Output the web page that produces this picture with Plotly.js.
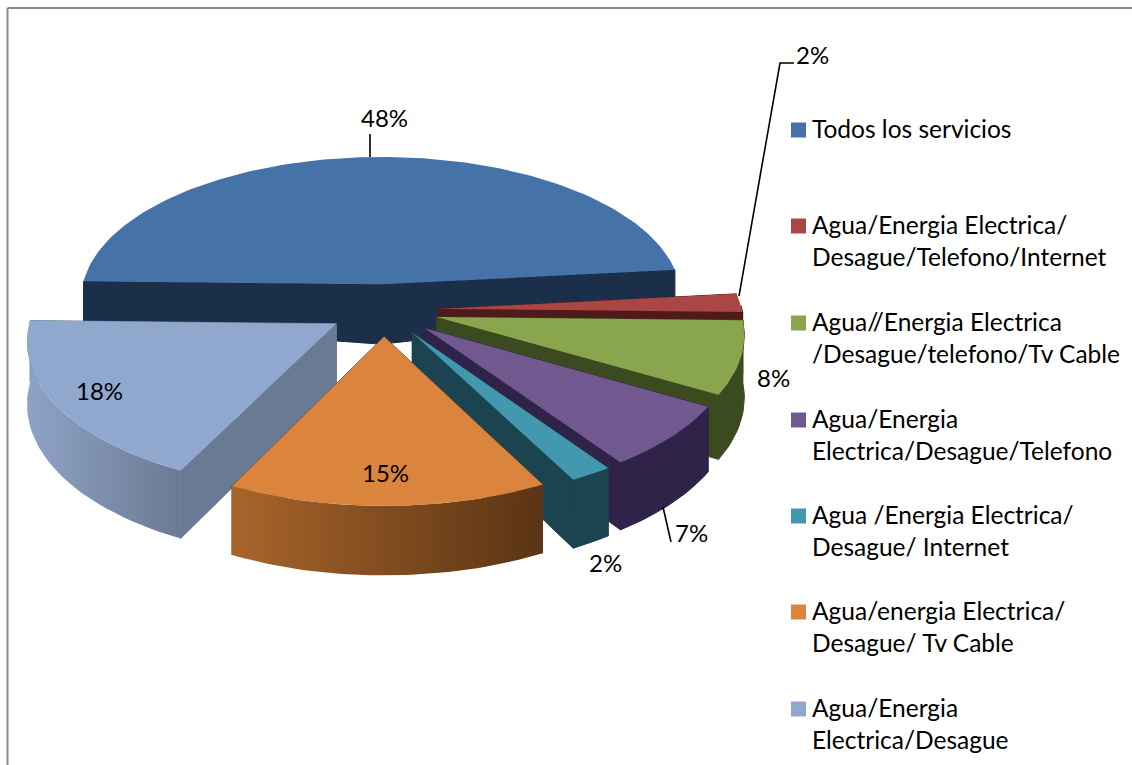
<!DOCTYPE html>
<html>
<head>
<meta charset="utf-8">
<script src="https://cdn.plot.ly/plotly-3.0.1.min.js"></script>
<style>html,body{margin:0;padding:0;background:#fff}#chart{width:1132px;height:765px}</style>
</head>
<body>
<div id="chart"></div>
<script>
const categories = [
  "Todos los servicios",
  "Agua/Energia Electrica/<br>Desague/Telefono/Internet",
  "Agua//Energia Electrica<br>/Desague/telefono/Tv Cable",
  "Agua/Energia<br>Electrica/Desague/Telefono",
  "Agua /Energia Electrica/<br>Desague/ Internet",
  "Agua/energia Electrica/<br>Desague/ Tv Cable",
  "Agua/Energia<br>Electrica/Desague"
];
const values = [48, 2, 8, 7, 2, 15, 18];
const faceColors = ["#4572a7", "#aa4643", "#89a54e", "#71588f", "#4198af", "#db843d", "#90a8ce"];
const wallColors = ["#1b2f4a", "#4f1b1a", "#3c4a20", "#30234a", "#1b4350", "#6d4220", "#6b7a94"];
const rimLeft    = [null, null, null, null, null, "#a8652b", "#8fa3c6"];
const rimRight   = [null, null, null, null, null, "#5a3414", "#6b7a94"];
const drawOrder = [0, 1, 2, 3, 4, 6, 5];

// projection of the tilted, exploded pie
const startAngle = 178.8, explode = 0.18, persp = 0.104;
const cx = 383.5, cy = 310, radX = 304, radY = 145.6, depthPx = 61;

function project(X, Y, z, taper) {
  const s = 1 / (1 + persp * Y);
  const d = z * depthPx * s * (taper ? 1 - 0.3 * X * X : 1);
  return [cx + radX * X * s, cy - radY * Y * s + d];
}
const rad = a => a * Math.PI / 180;

function polyTrace(pts, color, grad, edge) {
  const closed = pts.concat([pts[0]]);
  const t = {
    x: closed.map(p => p[0]), y: closed.map(p => p[1]),
    mode: "lines", line: edge ? {width: 1, color} : {width: 0}, fill: "toself", fillcolor: color,
    hoverinfo: "skip", showlegend: false, type: "scatter"
  };
  if (grad) t.fillgradient = {type: "horizontal", colorscale: [[0, grad[0]], [1, grad[1]]]};
  return t;
}

const traces = [];
const starts = [];
values.reduce((a, v, i) => { starts[i] = a; return a - v * 3.6; }, startAngle);

drawOrder.forEach(i => {
  const a0 = starts[i], a1 = a0 - values[i] * 3.6, mid = (a0 + a1) / 2;
  const ox = explode * Math.cos(rad(mid)), oy = explode * Math.sin(rad(mid));
  const arc = [];
  const n = Math.max(6, Math.round((a0 - a1) / 1.5));
  for (let k = 0; k <= n; k++) {
    const t = a0 + (a1 - a0) * k / n;
    arc.push([ox + Math.cos(rad(t)), oy + Math.sin(rad(t)), t]);
  }
  const taper = i === 0;
  // the two cut walls
  [arc[0], arc[n]].forEach(e => {
    traces.push(polyTrace([
      project(ox, oy, 0), project(e[0], e[1], 0),
      project(e[0], e[1], 1, taper), project(ox, oy, 1)
    ], wallColors[i], null, true));
  });
  // outer rim (front part only; the far corner of the last slice is included)
  const front = arc.filter(p => Math.sin(rad(p[2])) <= 0.03);
  if (i !== 0 && front.length > 1) {
    const top = front.map(p => project(p[0], p[1], 0));
    const bot = front.map(p => project(p[0], p[1], 1)).reverse();
    const grad = rimLeft[i] ? [rimLeft[i], rimRight[i]] : null;
    traces.push(polyTrace(top.concat(bot), wallColors[i], grad, !grad));
  }
  // top face
  const face = [project(ox, oy, 0)].concat(arc.map(p => project(p[0], p[1], 0)));
  traces.push(polyTrace(face, faceColors[i]));
});

// leader lines
const leaderStyle = {color: "#000", width: 1.6};
[[[370, 370], [134, 157]], [[739, 780, 794], [296, 63, 63]], [[663, 671], [507, 542]]].forEach(l => {
  traces.push({x: l[0], y: l[1], mode: "lines", line: leaderStyle, hoverinfo: "skip", showlegend: false, type: "scatter"});
});

// legend swatches
const legendY = [130, 226, 323, 420, 516, 612, 709];
traces.push({
  x: legendY.map(() => 798.5), y: legendY, mode: "markers", type: "scatter",
  marker: {symbol: "square", size: 15, color: faceColors, line: {width: 0}},
  hoverinfo: "skip", showlegend: false
});

const fontName = "Lato, Carlito, sans-serif";
const labelPos = [[384, 117], [812, 54], [773, 377], [691, 532], [605, 562], [385, 472], [99, 390]];
const annotations = values.map((v, i) => ({
  x: labelPos[i][0], y: labelPos[i][1], xref: "x", yref: "y",
  text: v + "%", showarrow: false, xanchor: "center", yanchor: "middle",
  font: {family: fontName, size: 24, color: "#000"}
}));
categories.forEach((c, i) => {
  annotations.push({
    x: 810, y: legendY[i] - 18, xref: "x", yref: "y", text: c, showarrow: false,
    xanchor: "left", yanchor: "top", align: "left",
    font: {family: fontName, size: 24.5, color: "#000"}
  });
});

const frame = {color: "#8a8a8a", width: 2};
const layout = {
  width: 1132, height: 765, margin: {l: 0, r: 0, t: 0, b: 0},
  paper_bgcolor: "#fff", plot_bgcolor: "#fff", showlegend: false,
  xaxis: {range: [0, 1132], visible: false, fixedrange: true},
  yaxis: {range: [765, 0], visible: false, fixedrange: true},
  annotations,
  shapes: [
    {type: "line", xref: "x", yref: "y", x0: 7.5, x1: 1132, y0: 8, y1: 8, line: frame},
    {type: "line", xref: "x", yref: "y", x0: 7.5, x1: 7.5, y0: 8, y1: 765, line: frame}
  ]
};
Plotly.newPlot("chart", traces, layout, {displayModeBar: false, staticPlot: true});
</script>
</body>
</html>
